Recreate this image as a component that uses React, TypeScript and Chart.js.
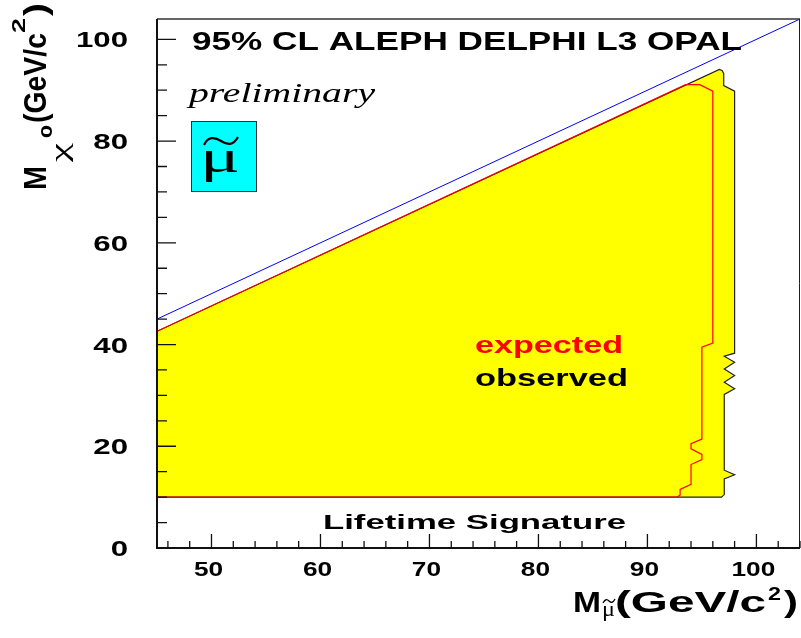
import React, { useEffect, useRef } from "react";
import { Chart, registerables } from "chart.js";

Chart.register(...registerables);

// ---- axis ranges & ticks ----
const X_MIN = 45;
const X_MAX = 104;
const Y_MIN = 0;
const Y_MAX = 104;
const xTickLabels = [50, 60, 70, 80, 90, 100];
const yTickLabels = [0, 20, 40, 60, 80, 100];
const xMinorTicks = [46, 48, 52, 54, 56, 58, 62, 64, 66, 68, 72, 74, 76, 78, 82, 84, 86, 88, 92, 94, 96, 98, 102, 104];
const yMinorTicks = [5, 10, 15, 25, 30, 35, 45, 50, 55, 65, 70, 75, 85, 90, 95];

// ---- observed excluded region (closed contour) ----
const obsX = [45, 45, 96.6, 96.85, 97.0, 97.0, 98.0, 98.0, 97.05, 98.0, 97.05, 98.0, 97.05, 98.0, 97.05, 97.05, 98.0, 97.05, 97.05, 96.8, 45];
const obsY = [10, 42.6, 94.1, 93.9, 93.3, 90.9, 89.8, 38.3, 37.7, 36.5, 35.2, 33.9, 32.6, 31.3, 30.2, 15.3, 14.4, 13.6, 10.5, 10.0, 10];

// ---- expected limit ----
const expX = [45, 93.5, 94.8, 96.0, 96.0, 95.0, 95.0, 94.0, 94.0, 95.0, 95.0, 94.0, 94.0, 93.0, 93.0, 92.7, 45];
const expY = [42.6, 91.1, 91.1, 89.8, 40.3, 39.5, 21.4, 20.5, 19.5, 18.4, 17.4, 16.4, 12.5, 11.5, 10.4, 10.0, 10.0];

// ---- kinematic limit M_chi = M_smuon ----
const kinX = [45, 104];
const kinY = [45, 104];

const SANS = "'Liberation Sans', Arial, sans-serif";
const SERIF = "'Liberation Serif', 'Times New Roman', serif";

function pts(xs: number[], ys: number[]) {
  return xs.map((x, i) => ({ x, y: ys[i] }));
}

type TxtOpts = { width?: number; sx?: number; align?: CanvasTextAlign; rot?: boolean };

function txt(ctx: CanvasRenderingContext2D, s: string, x: number, y: number, font: string, color: string, o: TxtOpts = {}) {
  ctx.save();
  ctx.font = font;
  ctx.fillStyle = color;
  ctx.textBaseline = "alphabetic";
  ctx.textAlign = o.align || "left";
  const w = ctx.measureText(s).width;
  const sx = o.width ? o.width / w : o.sx || 1;
  ctx.translate(x, y);
  if (o.rot) ctx.rotate(-Math.PI / 2);
  ctx.scale(sx, 1);
  ctx.fillText(s, 0, 0);
  ctx.restore();
}

const decor = {
  id: "decor",
  afterDraw(chart: any) {
    const ctx: CanvasRenderingContext2D = chart.ctx;
    const xs = chart.scales.x;
    const ys = chart.scales.y;
    const { left, right, top, bottom } = chart.chartArea;

    ctx.save();
    // frame
    ctx.strokeStyle = "#333";
    ctx.lineWidth = 1.5;
    ctx.beginPath();
    ctx.moveTo(left, top);
    ctx.lineTo(right, top);
    ctx.stroke();
    ctx.strokeStyle = "#0000ff";
    ctx.lineWidth = 1;
    ctx.beginPath();
    ctx.moveTo(right - 0.5, top);
    ctx.lineTo(right - 0.5, bottom);
    ctx.stroke();
    ctx.strokeStyle = "#111";
    ctx.lineWidth = 2;
    ctx.beginPath();
    ctx.moveTo(left, top);
    ctx.lineTo(left, bottom);
    ctx.lineTo(right, bottom);
    ctx.stroke();

    // ticks
    ctx.lineWidth = 1.3;
    ctx.strokeStyle = "#111";
    ctx.beginPath();
    for (const v of xTickLabels) {
      const p = xs.getPixelForValue(v);
      ctx.moveTo(p, bottom);
      ctx.lineTo(p, bottom - 14);
    }
    for (const v of xMinorTicks) {
      const p = xs.getPixelForValue(v);
      ctx.moveTo(p, bottom);
      ctx.lineTo(p, bottom - 7);
    }
    for (const v of yTickLabels) {
      const p = ys.getPixelForValue(v);
      ctx.moveTo(left, p);
      ctx.lineTo(left + 19, p);
    }
    for (const v of yMinorTicks) {
      const p = ys.getPixelForValue(v);
      ctx.moveTo(left, p);
      ctx.lineTo(left + 10, p);
    }
    ctx.stroke();
    ctx.restore();

    // tick labels
    for (const v of xTickLabels) {
      txt(ctx, String(v), xs.getPixelForValue(v) - 3, 576, `bold 21px ${SANS}`, "#000", { sx: 1.25, align: "center" });
    }
    for (const v of yTickLabels) {
      txt(ctx, String(v), 128, ys.getPixelForValue(v) + 8, `bold 22px ${SANS}`, "#000", { sx: 1.42, align: "right" });
    }

    // header texts
    txt(ctx, "95% CL ALEPH DELPHI L3 OPAL", 192, 50, `bold 25px ${SANS}`, "#000", { width: 550 });
    txt(ctx, "preliminary", 189, 101.7, `italic 27px ${SERIF}`, "#000", { width: 186 });

    // cyan box with smuon symbol
    ctx.save();
    ctx.fillStyle = "#00ffff";
    ctx.fillRect(191, 121, 66, 71);
    ctx.strokeStyle = "#333";
    ctx.lineWidth = 1;
    ctx.strokeRect(191.5, 121.5, 65, 70);
    ctx.restore();
    txt(ctx, "μ", 220, 172, `46px ${SERIF}`, "#000", { width: 40, align: "center" });
    ctx.save();
    ctx.strokeStyle = "#000";
    ctx.lineWidth = 2.2;
    ctx.beginPath();
    ctx.moveTo(204, 145);
    ctx.bezierCurveTo(208, 136, 215, 137, 221, 141);
    ctx.bezierCurveTo(227, 145, 233, 146, 238, 137);
    ctx.stroke();
    ctx.restore();

    // legend texts
    txt(ctx, "expected", 475, 353.3, `bold 23px ${SANS}`, "#ff0000", { width: 148 });
    txt(ctx, "observed", 475, 386, `bold 23px ${SANS}`, "#000", { width: 153 });
    txt(ctx, "Lifetime Signature", 323, 528.5, `bold 21px ${SANS}`, "#000", { width: 303 });

    // x axis title: M_{smuon}(GeV/c^2)
    txt(ctx, "M", 573, 612, `bold 29px ${SANS}`, "#000", { width: 28 });
    txt(ctx, "μ", 602, 616, `21px ${SERIF}`, "#000", { width: 13 });
    ctx.save();
    ctx.strokeStyle = "#000";
    ctx.lineWidth = 1.3;
    ctx.beginPath();
    ctx.moveTo(603, 603);
    ctx.bezierCurveTo(605, 599, 607, 599, 609, 601);
    ctx.bezierCurveTo(611, 603, 613, 603, 615, 599);
    ctx.stroke();
    ctx.restore();
    txt(ctx, "(GeV/c", 615, 612, `bold 29px ${SANS}`, "#000", { width: 151 });
    txt(ctx, "2", 768, 600, `bold 18px ${SANS}`, "#000", { width: 13 });
    txt(ctx, ")", 784, 612, `bold 29px ${SANS}`, "#000", { width: 14 });

    // y axis title (rotated): M_{chi^o}(GeV/c^2)
    txt(ctx, "M", 46, 190, `bold 31px ${SANS}`, "#000", { width: 24, rot: true });
    txt(ctx, "χ", 68, 162, `26px ${SERIF}`, "#000", { width: 19, rot: true });
    txt(ctx, "o", 52, 138, `bold 20px ${SANS}`, "#000", { width: 13, rot: true });
    txt(ctx, "(GeV/c", 46, 123, `bold 31px ${SANS}`, "#000", { width: 90, rot: true });
    txt(ctx, "2", 25, 33, `bold 18px ${SANS}`, "#000", { width: 15, rot: true });
    txt(ctx, ")", 46, 16, `bold 31px ${SANS}`, "#000", { width: 13, rot: true });
  },
};

export default function App() {
  const ref = useRef<HTMLCanvasElement | null>(null);
  useEffect(() => {
    if (!ref.current) return;
    const chart = new Chart(ref.current, {
      type: "scatter",
      data: {
        datasets: [
          {
            label: "expected",
            data: pts(expX, expY),
            showLine: true,
            fill: false,
            borderColor: "#ff0000",
            borderWidth: 1.2,
            pointRadius: 0,
            tension: 0,
            order: 1,
          },
          {
            label: "kinematic limit",
            data: pts(kinX, kinY),
            showLine: true,
            fill: false,
            borderColor: "#0000ff",
            borderWidth: 1,
            pointRadius: 0,
            order: 2,
          },
          {
            label: "observed",
            data: pts(obsX, obsY),
            showLine: true,
            fill: "shape",
            backgroundColor: "#ffff00",
            borderColor: "#222",
            borderWidth: 1.2,
            pointRadius: 0,
            tension: 0,
            order: 3,
          } as any,
        ],
      },
      options: {
        responsive: false,
        animation: false,
        devicePixelRatio: 1,
        layout: { padding: { left: 157, top: 19, right: 1, bottom: 90 } },
        plugins: { legend: { display: false }, tooltip: { enabled: false } },
        scales: {
          x: { type: "linear", display: false, min: X_MIN, max: X_MAX },
          y: { type: "linear", display: false, min: Y_MIN, max: Y_MAX },
        },
      },
      plugins: [decor],
    });
    return () => chart.destroy();
  }, []);
  return (
    <div style={{ position: "absolute", left: 0, top: 0, width: 801, height: 638, background: "#fff" }}>
      <canvas ref={ref} width={801} height={638} style={{ display: "block" }} />
    </div>
  );
}
